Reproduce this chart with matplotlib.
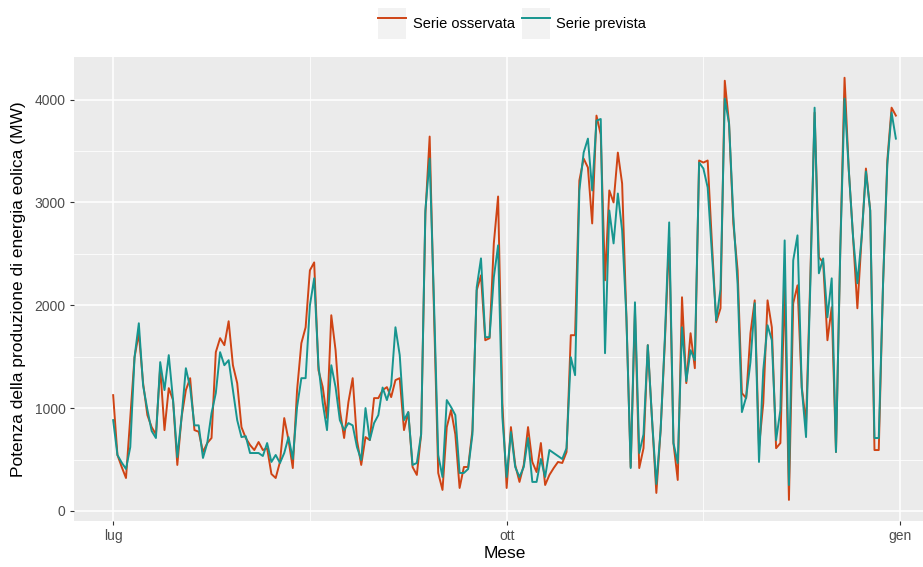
import matplotlib as mpl
mpl.use('Agg')
import matplotlib.pyplot as plt
from matplotlib.patches import Rectangle
from matplotlib.lines import Line2D
from matplotlib.legend_handler import HandlerTuple
import pandas as pd

plt.rcParams['font.family'] = ['Liberation Sans', 'DejaVu Sans']

# daily wind power, 1 Jul - 31 Dec (MW)
osservata = [1126, 544, 427, 320, 913, 1495, 1728, 1243, 932, 815,
             745, 1398, 786, 1194, 1078, 447, 913, 1175, 1291, 786,
             770, 573, 660, 709, 1544, 1680, 1612, 1845, 1417, 1243,
             815, 709, 641, 592, 670, 592, 610, 359, 320, 476,
             903, 689, 417, 1175, 1631, 1786, 2340, 2417, 1369, 1204,
             903, 1903, 1563, 981, 709, 1058, 1291, 689, 447, 718,
             689, 1097, 1097, 1175, 1204, 1107, 1272, 1291, 786, 961,
             427, 350, 745, 2890, 3641, 1951, 369, 204, 815, 981,
             745, 223, 427, 427, 786, 2146, 2291, 1660, 1680, 2602,
             3058, 1049, 223, 815, 447, 282, 447, 815, 476, 378,
             660, 252, 350, 417, 476, 466, 573, 1709, 1709, 3214,
             3427, 3340, 2796, 3845, 3660, 2243, 3117, 3000, 3485, 3184,
             1883, 427, 1951, 417, 610, 1612, 883, 175, 786, 1650,
             2660, 660, 301, 2078, 1243, 1728, 1388, 3408, 3388, 3408,
             2600, 1835, 1971, 4184, 3767, 2796, 2340, 1146, 1097, 1728,
             2048, 621, 1049, 2048, 1786, 610, 660, 2214, 107, 2020,
             2194, 1204, 850, 2272, 3874, 2466, 2417, 1660, 1981, 573,
             2534, 4213, 3311, 2660, 1971, 2660, 3330, 2922, 592, 592,
             2204, 3408, 3922, 3845]

prevista = [883, 544, 470, 408, 621, 1495, 1825, 1220, 985, 777,
            709, 1447, 1175, 1515, 1078, 524, 913, 1388, 1200, 832,
            832, 515, 660, 951, 1146, 1544, 1417, 1466, 1175, 883,
            718, 727, 563, 563, 563, 534, 660, 476, 544, 466,
            563, 718, 505, 1010, 1291, 1291, 2000, 2262, 1417, 1049,
            786, 1417, 1204, 883, 786, 854, 832, 621, 495, 1000,
            689, 854, 932, 1200, 1078, 1222, 1786, 1515, 883, 961,
            447, 466, 745, 2922, 3427, 2048, 544, 330, 1078, 1010,
            932, 369, 369, 408, 745, 2175, 2456, 1690, 1690, 2272,
            2583, 913, 330, 767, 427, 330, 427, 709, 282, 282,
            505, 330, 592, 563, 534, 505, 610, 1495, 1320, 3117,
            3485, 3621, 3117, 3796, 3812, 1534, 2922, 2602, 3087, 2728,
            1883, 417, 2029, 563, 745, 1612, 883, 262, 786, 1690,
            2806, 660, 466, 1786, 1262, 1563, 1466, 3388, 3330, 3146,
            2500, 1854, 2155, 4010, 3767, 2864, 2204, 961, 1107, 1447,
            2020, 476, 1369, 1806, 1660, 689, 981, 2631, 252, 2437,
            2680, 1194, 718, 2200, 3922, 2311, 2456, 1883, 2262, 573,
            2534, 4010, 3311, 2660, 2214, 2660, 3301, 2922, 709, 709,
            2204, 3370, 3874, 3621]

date = pd.date_range('2020-07-01', periods=len(osservata), freq='D')
mesi = ['lug', 'ott', 'gen']
mesi_date = pd.to_datetime(['2020-07-01', '2020-10-01', '2021-01-01'])
minor_date = pd.to_datetime(['2020-08-16', '2020-11-16'])

col_oss = '#CF4415'
col_prev = '#17958F'

fig = plt.figure(figsize=(9.23, 5.67), dpi=100)
ax = fig.add_axes([0.0802, 0.0811, 0.9328, 0.819])
ax.set_facecolor('#EBEBEB')

ax.plot(date, osservata, color=col_oss, lw=1.4, zorder=3)
ax.plot(date, prevista, color=col_prev, lw=1.4, zorder=4)

span = (date[-1] - date[0]) * 0.05
ax.set_xlim(date[0] - span, date[-1] + span)
vmin = min(min(osservata), min(prevista))
vmax = max(max(osservata), max(prevista))
pad = 0.05 * (vmax - vmin)
ax.set_ylim(vmin - pad, vmax + pad)

ax.set_xticks(mesi_date)
ax.set_xticklabels(mesi)
ax.set_xticks(minor_date, minor=True)
ax.set_yticks([0, 1000, 2000, 3000, 4000])
ax.set_yticks([500, 1500, 2500, 3500], minor=True)

ax.grid(which='major', color='white', lw=1.1)
ax.grid(which='minor', color='white', lw=0.55)
ax.set_axisbelow(True)
for s in ax.spines.values():
    s.set_visible(False)
ax.tick_params(which='major', length=3, width=0.8, color='#333333',
               labelcolor='#4D4D4D', labelsize=10, pad=3)
ax.tick_params(which='minor', length=0)

ax.set_xlabel('Mese', fontsize=12.5, labelpad=2)
ax.set_ylabel('Potenza della produzione di energia eolica (MW)',
              fontsize=12.5, labelpad=6)

# legend keys: grey square with the line on top, ggplot style
key1 = (Rectangle((0, 0), 1, 1, facecolor='#F2F2F2', edgecolor='none'),
        Line2D([], [], color=col_oss, lw=1.4))
key2 = (Rectangle((0, 0), 1, 1, facecolor='#F2F2F2', edgecolor='none'),
        Line2D([], [], color=col_prev, lw=1.4))
fig.legend([key1, key2], ['Serie osservata', 'Serie prevista'],
           handler_map={tuple: HandlerTuple(ndivide=1)},
           loc='upper center', bbox_to_anchor=(0.555, 1.0), ncol=2,
           frameon=False, fontsize=10.5, handlelength=1.9, handleheight=2.9,
           handletextpad=0.45, columnspacing=0.5, borderaxespad=0.15)

fig.savefig('out.png', dpi=100)
